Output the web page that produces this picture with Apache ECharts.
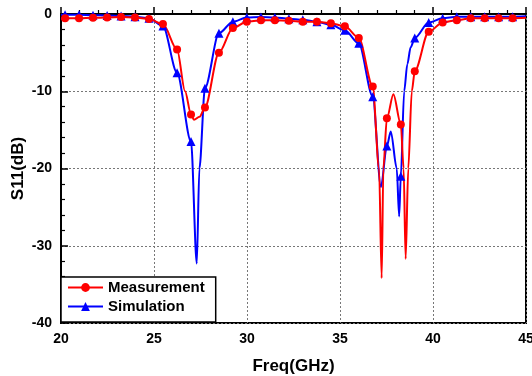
<!DOCTYPE html>
<html><head><meta charset="utf-8">
<script src="https://cdn.jsdelivr.net/npm/echarts@6/dist/echarts.min.js"></script>
<style>html,body{margin:0;padding:0;background:#fff}#c{width:532px;height:376px}</style>
</head><body><div id="c"></div>
<script>
// Marker frequencies (GHz), shared by both curves
const markerFreq = [20.22,20.97,21.72,22.48,23.23,23.98,24.73,25.48,26.24,26.99,27.74,28.49,29.24,29.99,30.75,31.50,32.25,33.00,33.76,34.51,35.26,36.01,36.76,37.52,38.27,39.02,39.77,40.52,41.28,42.03,42.78,43.53,44.28];
// Measurement S11 (dB) at markers
const measS11 = [-0.55,-0.55,-0.5,-0.45,-0.4,-0.45,-0.65,-1.3,-4.6,-13.0,-12.1,-5.0,-1.8,-1.0,-0.8,-0.8,-0.87,-1.0,-1.0,-1.2,-1.6,-3.1,-9.4,-13.5,-14.3,-7.4,-2.3,-1.1,-0.8,-0.55,-0.55,-0.55,-0.55];
// Measurement curve points between markers
const measExtraFreq = [20.0,26.67,27.15,27.45,37.1,37.24,37.33,37.87,38.42,38.53,38.67,38.86,45.0];
const measExtraS11  = [-0.6,-10.0,-13.7,-13.3,-20.0,-34.2,-20.0,-10.4,-20.0,-31.7,-20.0,-10.0,-0.5];
// Simulation S11 (dB) at markers
const simS11 = [-0.1,-0.1,-0.15,-0.2,-0.25,-0.35,-0.55,-1.55,-7.6,-16.5,-9.6,-2.5,-1.0,-0.45,-0.4,-0.45,-0.6,-0.75,-1.0,-1.4,-2.1,-3.8,-10.7,-17.1,-21.0,-3.1,-1.1,-0.56,-0.35,-0.35,-0.35,-0.35,-0.35];
// Simulation curve points between markers
const simExtraFreq = [20.0,27.3,27.44,37.2,37.73,38.05,38.18,38.45,38.62,38.8,45.0];
const simExtraS11  = [-0.1,-32.3,-20.0,-22.4,-15.2,-20.0,-26.2,-10.0,-6.5,-4.3,-0.3];

const xTicks = {min:20, max:45, interval:5};
const yTicks = {min:-40, max:0, interval:10};

function build(mx, my, ex, ey){
  const pts = [];
  for (let i=0;i<mx.length;i++) pts.push({value:[mx[i],my[i]]});
  for (let j=0;j<ex.length;j++) pts.push({value:[ex[j],ey[j]], symbol:'none'});
  pts.sort((a,b)=>a.value[0]-b.value[0]);
  return pts;
}

const FONT = 'Liberation Sans, Arial, sans-serif';
const chart = echarts.init(document.getElementById('c'), null, {renderer:'canvas'});
chart.setOption({
  animation:false,
  backgroundColor:'#fff',
  grid:{left:61, right:6, top:14, bottom:53, show:true, borderColor:'#000', borderWidth:2, containLabel:false, outerBoundsMode:'none'},
  xAxis:{
    type:'value', min:xTicks.min, max:xTicks.max, interval:xTicks.interval,
    name:'Freq(GHz)', nameLocation:'middle', nameGap:35, nameMoveOverlap:false,
    nameTextStyle:{fontFamily:FONT, fontWeight:'bold', fontSize:17, color:'#000'},
    axisLine:{show:true, lineStyle:{color:'#000', width:2}},
    axisTick:{show:true, inside:true, length:7, lineStyle:{color:'#000', width:1.5}},
    minorTick:{show:true, splitNumber:5, length:4, lineStyle:{color:'#000', width:1.2}},
    axisLabel:{fontFamily:FONT, fontWeight:'bold', fontSize:14, color:'#000', margin:9},
    splitLine:{show:true, lineStyle:{color:'#777', type:[2,2], width:1}}
  },
  yAxis:{
    type:'value', min:yTicks.min, max:yTicks.max, interval:yTicks.interval,
    name:'S11(dB)', nameLocation:'middle', nameGap:34, nameMoveOverlap:false,
    nameTextStyle:{fontFamily:FONT, fontWeight:'bold', fontSize:17, color:'#000'},
    axisLine:{show:true, lineStyle:{color:'#000', width:2}},
    axisTick:{show:true, inside:true, length:7, lineStyle:{color:'#000', width:1.5}},
    minorTick:{show:true, splitNumber:5, length:4, lineStyle:{color:'#000', width:1.2}},
    axisLabel:{fontFamily:FONT, fontWeight:'bold', fontSize:14, color:'#000', margin:9},
    splitLine:{show:true, lineStyle:{color:'#777', type:[2,2], width:1}}
  },
  legend:{
    data:['Measurement','Simulation'],
    orient:'vertical', left:61, bottom:54,
    padding:[3,11,8,6], itemGap:4, itemWidth:35, itemHeight:11,
    borderColor:'#000', borderWidth:1.5, backgroundColor:'#fff',
    textStyle:{fontFamily:FONT, fontWeight:'bold', fontSize:15, color:'#000'}
  },
  series:[
    {name:'Simulation', type:'line', smooth:0.3, smoothMonotone:'x',
     symbol:'triangle', symbolSize:9, showAllSymbol:true,
     lineStyle:{color:'#0000ff', width:2}, itemStyle:{color:'#0000ff'},
     data:build(markerFreq, simS11, simExtraFreq, simExtraS11)},
    {name:'Measurement', type:'line', smooth:0.3, smoothMonotone:'x',
     symbol:'circle', symbolSize:8, showAllSymbol:true,
     lineStyle:{color:'#ff0000', width:2}, itemStyle:{color:'#ff0000'},
     data:build(markerFreq, measS11, measExtraFreq, measExtraS11)}
  ]
});
</script></body></html>
